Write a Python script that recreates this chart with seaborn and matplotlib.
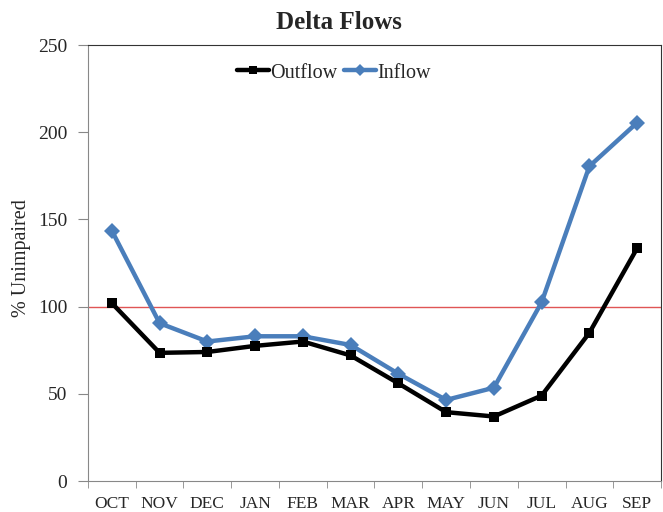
import pandas as pd
import matplotlib.pyplot as plt
import seaborn as sns

# monthly % of unimpaired flow
months = ['OCT', 'NOV', 'DEC', 'JAN', 'FEB', 'MAR', 'APR', 'MAY', 'JUN', 'JUL', 'AUG', 'SEP']
outflow = [102, 73.5, 74, 77.5, 80, 72, 56, 39.5, 37, 49, 85, 133.5]
inflow = [143.5, 90.5, 80, 83, 83, 78, 61.5, 46.5, 53.5, 102.5, 180.5, 205.5]

df = pd.DataFrame({'month': months, 'Outflow': outflow, 'Inflow': inflow})

sns.set_style('white')
plt.rcParams['font.family'] = ['Liberation Serif', 'DejaVu Serif']

fig = plt.figure(figsize=(6.63, 5.12), dpi=100)
ax = fig.add_axes([0.1327, 0.0605, 0.8643, 0.8515])

ax.axhline(100, color='#E05555', lw=1, zorder=1)
sns.lineplot(data=df, x='month', y='Outflow', ax=ax, color='black', lw=3.2,
             marker='s', markersize=7, markeredgewidth=0, label='Outflow', zorder=3)
sns.lineplot(data=df, x='month', y='Inflow', ax=ax, color='#4A7EBB', lw=3.2,
             marker='D', markersize=8, markeredgewidth=0, label='Inflow', zorder=2)

ax.set_xlim(-0.5, 11.5)
ax.set_ylim(0, 250)
ax.set_yticks(range(0, 251, 50))
ax.set_xticks(range(12))
ax.set_xticks([i - 0.5 for i in range(13)], minor=True)
ax.tick_params(axis='x', which='major', length=0, labelsize=12.5, pad=11)
ax.tick_params(axis='x', which='minor', length=5, color='#888888', direction='out', bottom=True)
ax.tick_params(axis='y', length=7, color='#888888', direction='out', left=True, labelsize=14, pad=8)

ax.set_xlabel('')
ax.set_ylabel('% Unimpaired', fontsize=14.5)
ax.yaxis.set_label_coords(-0.10, 0.511)
fig.text(0.511, 0.957, 'Delta Flows', fontsize=18, fontweight='bold', ha='center', va='center')

for side in ['left', 'bottom']:
    ax.spines[side].set_color('#888888')
for side in ['top', 'right']:
    ax.spines[side].set_color('#333333')

ax.legend(loc='center', bbox_to_anchor=(0.429, 0.936), ncol=2, frameon=False,
          fontsize=14.5, handlelength=1.6, handletextpad=0.05, columnspacing=0.3,
          markerscale=0.8)

plt.savefig('out.png', dpi=100)
